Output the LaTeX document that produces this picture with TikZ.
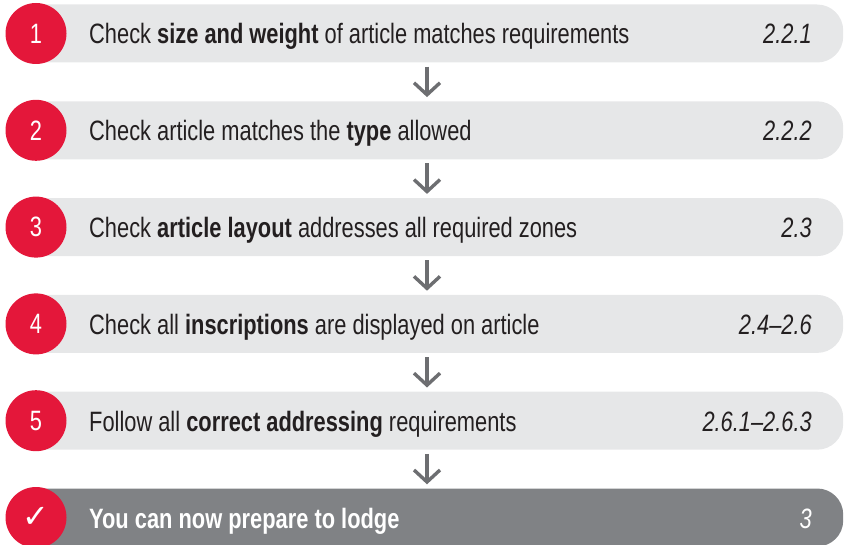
\documentclass[tikz,border=0pt]{standalone}
\usepackage{fontspec}
\setmainfont{Liberation Sans}[FakeStretch=0.78]
\newfontfamily\symfont{DejaVu Sans}
\usetikzlibrary{arrows.meta}
\definecolor{cred}{HTML}{E4173A}
\definecolor{cbar}{HTML}{E6E7E8}
\definecolor{cdark}{HTML}{808285}
\definecolor{carrow}{HTML}{6D6E71}
\definecolor{ctext}{HTML}{231F20}
\tikzset{
  bar/.style={rectangle, rounded corners=26pt, fill=cbar, minimum width=823pt, minimum height=58pt, inner sep=0pt, anchor=west},
  lastbar/.style={bar, fill=cdark},
  num/.style={circle, fill=cred, minimum size=61pt, inner sep=0pt, text=white, font=\fontsize{28}{30}\selectfont},
  label/.style={anchor=base west, inner sep=0pt, text=ctext, font=\fontsize{28}{30}\selectfont},
  ref/.style={anchor=base east, inner sep=0pt, text=ctext, font=\fontsize{28}{30}\selectfont\itshape},
  flow/.style={draw=carrow, line width=3.4pt, -{Straight Barb[length=12pt,width=26pt,line width=3.4pt]}, shorten <=4pt, shorten >=4pt}
}
\begin{document}
\begin{tikzpicture}[x=1pt,y=-1pt]
\useasboundingbox (0,0) rectangle (844,545);
% bars
\node[bar] (b1) at (20,33.5) {};
\node[bar] (b2) at (20,130.3) {};
\node[bar] (b3) at (20,227.1) {};
\node[bar] (b4) at (20,323.9) {};
\node[bar] (b5) at (20,420.7) {};
\node[lastbar] (b6) at (20,517.5) {};
% arrows
\coordinate (ax) at (427,0);
\draw[flow] (ax |- b1.south) -- (ax |- b2.north);
\draw[flow] (ax |- b2.south) -- (ax |- b3.north);
\draw[flow] (ax |- b3.south) -- (ax |- b4.north);
\draw[flow] (ax |- b4.south) -- (ax |- b5.north);
\draw[flow] (ax |- b5.south) -- (ax |- b6.north);
% circles
\node[num] (c1) at (36,33.5) {1};
\node[num] (c2) at (36,130.3) {2};
\node[num] (c3) at (36,227.1) {3};
\node[num] (c4) at (36,323.9) {4};
\node[num] (c5) at (36,420.7) {5};
\node[num] (c6) at (36,517.5) {{\symfont\fontsize{32}{34}\selectfont ✓}};
% labels
\node[label] (t1) at (89,44) {Check \textbf{size and weight} of article matches requirements};
\node[label] (t2) at (89,140.8) {Check article matches the \textbf{type} allowed};
\node[label] (t3) at (89,237.6) {Check \textbf{article layout} addresses all required zones};
\node[label] (t4) at (89,334.4) {Check all \textbf{inscriptions} are displayed on article};
\node[label] (t5) at (89,431.2) {Follow all \textbf{correct addressing} requirements};
\node[label, text=white, font=\fontsize{28}{30}\selectfont\bfseries] (t6) at (89,528) {You can now prepare to lodge};
% references
\node[ref] (r1) at (812,44) {2.2.1};
\node[ref] (r2) at (812,140.8) {2.2.2};
\node[ref] (r3) at (812,237.6) {2.3};
\node[ref] (r4) at (812,334.4) {2.4–2.6};
\node[ref] (r5) at (812,431.2) {2.6.1–2.6.3};
\node[ref, text=white] (r6) at (812,528) {3};
\end{tikzpicture}
\end{document}
